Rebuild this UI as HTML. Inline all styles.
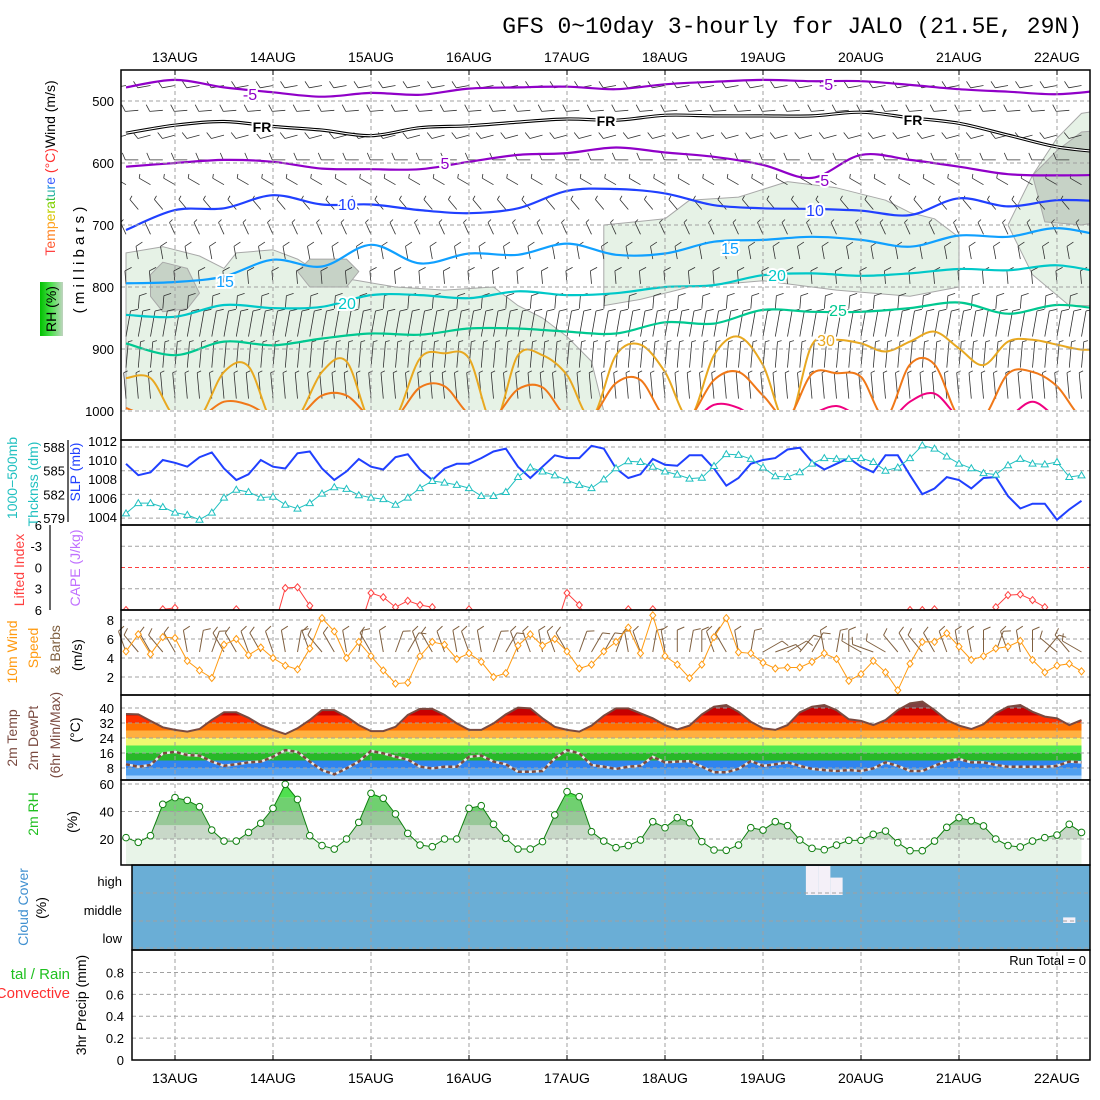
<!DOCTYPE html>
<html><head><meta charset="utf-8"><title>GFS meteogram JALO</title>
<style>
html,body{margin:0;padding:0;background:#fff;}
svg{display:block;font-family:"Liberation Sans",sans-serif;}
</style></head>
<body>
<svg id="chart" width="1100" height="1100" viewBox="0 0 1100 1100" xmlns="http://www.w3.org/2000/svg">
<defs>
<clipPath id="clipMain"><rect x="121" y="70" width="969" height="340"/></clipPath>
<clipPath id="clipLI"><rect x="121" y="525" width="969" height="85"/></clipPath>
<clipPath id="clipCloud"><rect x="132" y="865" width="958" height="85"/></clipPath>
<linearGradient id="rhGrad" x1="0" y1="0" x2="1" y2="0"><stop offset="0" stop-color="#00c000"/><stop offset="0.5" stop-color="#50e050"/><stop offset="1" stop-color="#c0d4c0"/></linearGradient>
</defs>
<text x="1082" y="33" text-anchor="end" font-family="Liberation Mono, monospace" font-size="23">GFS 0~10day 3-hourly for JALO (21.5E, 29N)</text>
</svg>
<script>
// ---------- data (3-hourly, starting 12AUG 12Z) ----------
const days = ["13AUG","14AUG","15AUG","16AUG","17AUG","18AUG","19AUG","20AUG","21AUG","22AUG"];
const slp = [1009.6,1008.4,1008.7,1010.0,1009.7,1009.3,1010.3,1010.8,1009.1,1007.9,1008.5,1010.0,1009.3,1009.1,1010.7,1010.9,1009.1,1007.9,1008.8,1010.1,1009.3,1009.0,1010.3,1010.6,1009.0,1007.9,1009.1,1009.6,1009.6,1010.2,1010.9,1011.2,1009.3,1008.1,1009.3,1010.5,1010.2,1010.2,1011.5,1011.2,1009.1,1008.1,1008.5,1010.1,1009.5,1009.4,1010.5,1010.5,1009.1,1007.3,1008.1,1009.6,1010.0,1010.2,1011.1,1011.3,1009.8,1009.0,1009.6,1010.2,1009.3,1008.7,1010.5,1010.5,1008.4,1006.4,1007.0,1008.2,1007.9,1007.0,1008.1,1008.2,1006.2,1004.9,1005.4,1005.4,1003.7,1004.8,1005.7];
const thickness = [579.6,580.9,580.9,580.4,579.7,579.4,578.8,579.7,581.6,582.6,582.3,581.6,581.7,580.7,580.2,580.9,582.1,582.9,582.7,581.9,581.6,581.4,580.7,581.6,582.8,583.7,583.5,583.2,582.8,581.8,581.8,582.3,584.2,585.4,584.9,584.4,583.8,583.2,582.8,583.9,585.3,586.2,586.1,585.5,584.9,584.5,584.0,584.1,585.6,587.1,587.0,586.5,585.4,584.3,584.2,584.8,585.9,586.6,586.5,586.5,586.6,586.1,585.0,585.4,586.6,588.2,587.8,586.8,585.9,585.3,584.7,584.5,585.7,586.5,585.9,585.8,586.1,584.2,584.4];
const liftedIndex = [6.0,9,9,5.9,5.7,9,9,9,9,5.9,9,9,9,2.9,2.8,5.4,9,9,9,9,3.6,4.2,5.6,4.7,5.3,5.6,9,9,5.9,9,9,9,9,9,9,9,3.6,5.3,9,9,9,5.9,9,5.9,9,9,9,9,9,9,9,9,9,9,9,9,9,9,9,9,9,9,9,9,6.0,6.0,5.9,9,9,9,9,5.6,3.9,3.8,4.6,5.6,9,9,9];
const wind10 = [4.7,6.5,4.4,6.2,6.1,3.7,2.7,1.9,5.4,6.0,4.3,5.1,4.0,3.2,2.8,5.0,8.2,6.8,4.0,5.7,4.2,2.7,1.3,1.4,4.2,5.7,5.4,3.9,4.5,3.6,2.0,2.4,5.3,6.5,5.3,6.0,4.7,2.9,3.3,4.7,5.7,7.2,4.5,8.5,4.2,3.3,1.9,3.3,6.2,8.2,4.6,4.5,3.5,2.9,3.0,3.0,3.6,4.5,3.9,1.6,2.3,3.7,2.5,0.6,3.4,5.7,5.7,6.6,5.2,3.8,4.2,5.0,5.2,5.8,3.8,2.5,3.2,3.4,2.6];
const wind10Dir = [340,320,330,320,330,350,10,20,330,330,340,330,340,350,10,340,320,330,350,10,330,350,20,30,340,330,340,350,340,350,20,30,340,340,350,340,330,20,30,30,20,350,340,10,350,0,10,0,340,330,350,10,60,70,60,40,30,350,10,0,300,290,300,320,330,320,330,340,350,350,0,20,340,350,0,40,310,320,300];
const temp2m = [36.8,36.6,33.1,29.7,28.3,27.4,28.8,33.6,37.7,37.7,34.8,30.9,28.3,26.1,29.2,33.6,38.9,38.9,35.4,30.9,27.7,27.7,30.0,36.3,39.5,39.5,36.3,31.8,28.3,28.3,31.8,36.6,40.2,39.8,34.5,30.0,28.3,27.4,30.6,35.9,39.8,39.8,37.2,34.5,30.9,28.6,30.6,36.6,40.7,41.6,38.0,32.7,29.2,28.3,30.9,37.7,40.7,41.6,38.9,34.0,33.2,30.9,33.6,38.9,42.5,43.4,38.9,33.6,30.6,28.8,31.3,37.2,40.7,41.6,38.0,35.4,34.5,30.9,33.6];
const dew2m = [10.0,8.7,9.6,15.8,16.6,14.9,14.6,11.4,9.2,10.0,11.0,11.4,14.0,17.6,16.6,11.4,6.9,4.6,7.8,11.4,17.1,15.8,14.0,12.5,8.7,7.8,8.7,8.7,14.0,14.6,11.4,10.0,6.0,6.0,6.4,13.1,17.6,15.8,9.6,8.7,7.5,8.7,9.2,14.0,11.0,11.4,11.7,8.7,5.7,5.7,7.5,11.7,9.1,10.0,11.0,9.2,7.5,6.9,6.4,6.9,6.4,7.8,11.0,9.1,6.4,6.4,9.2,11.7,12.8,11.0,11.0,9.6,8.7,8.7,8.7,8.7,9.1,11.4,11.0];
const rh2m = [21.0,17.6,22.4,45.2,50.1,48.1,43.5,26.5,18.5,18.5,24.8,31.4,42.3,59.8,48.8,22.4,15.2,12.7,20.0,32.1,53.2,49.6,38.2,24.1,15.6,14.4,20.0,20.0,42.3,44.2,30.7,20.5,12.7,12.7,18.1,37.5,54.4,50.8,25.3,18.5,13.7,15.2,19.3,32.6,28.2,35.5,31.9,18.1,12.0,11.8,15.6,28.2,26.5,32.6,29.7,19.3,13.2,12.2,15.6,19.0,19.0,23.4,25.8,17.3,11.5,11.5,18.5,28.5,35.5,33.3,29.5,20.0,15.2,14.2,18.5,21.0,22.9,30.7,24.8];
const cloudHigh = [100,100,100,100,100,100,100,100,100,100,100,100,100,100,100,100,100,100,100,100,100,100,100,100,100,100,100,100,100,100,100,100,100,100,100,100,100,100,100,100,100,100,100,100,100,100,100,100,100,100,100,100,100,100,100,100,0,0,40,100,100,100,100,100,100,100,100,100,100,100,100,100,100,100,100,100,100,100,100];
const cloudMid = [100,100,100,100,100,100,100,100,100,100,100,100,100,100,100,100,100,100,100,100,100,100,100,100,100,100,100,100,100,100,100,100,100,100,100,100,100,100,100,100,100,100,100,100,100,100,100,100,100,100,100,100,100,100,100,100,100,100,100,100,100,100,100,100,100,100,100,100,100,100,100,100,100,100,100,100,100,80,100];
const precip = new Array(79).fill(0);
// isotherm pressures (mb), 12-hourly
const isoM5 = [478,466,478,486,493,487,490,480,478,477,481,473,469,466,468,468,474,481,485,489,482];
const isoFR = [552,539,533,541,547,556,543,540,534,529,531,523,524,524,524,518,527,536,555,574,583];
const iso5 = [606,600,595,598,609,610,610,598,587,584,575,583,590,603,624,587,595,606,618,620,619];
const iso10 = [708,676,673,652,667,667,676,681,673,645,642,649,668,673,674,677,684,657,670,660,662];
const iso15 = [794,792,783,756,767,732,762,746,748,730,748,746,727,724,719,724,735,717,719,705,719];
const iso20 = [845,848,829,834,832,813,813,818,807,813,810,800,797,781,778,782,778,771,773,765,778];
const iso25 = [891,910,888,894,883,875,877,867,867,872,875,857,859,837,840,840,834,825,843,829,837];
// near-surface isotherms, 6-hourly (values > 1000 lie below ground)
const iso30 = [947,947,1010,1010,937,928,1020,1010,937,920,1020,1010,915,907,915,1020,910,910,942,1010,910,893,937,1010,910,880,926,1020,893,885,891,904,888,872,899,926,888,885,893,901,900];
const iso35 = [995,1010,1010,1010,985,990,1010,1010,975,975,1010,1010,962,960,1005,1010,965,962,1010,1010,955,950,1010,1010,950,937,975,1010,940,939,945,1010,925,925,1010,1010,940,937,960,1010,1010];
const iso40 = [1020,1020,1020,1020,1020,1020,1020,1020,1020,1020,1020,1020,1020,1020,1020,1020,1020,1020,1020,1020,1020,1020,1020,1020,990,995,1020,1020,1005,992,1010,1020,985,972,1010,1020,1010,985,1010,1020,1020];
// upper-air wind barbs by level
const barbLevels = [475,515,555,595,635,675,715,755,795,835,880,930,980];
const barbDir = [260,265,255,270,300,320,335,350,355,5,10,5,355];
const barbSpd = [12,11,10,9,8,8,8,9,9,9,10,8,6];
// RH shading regions (time index, pressure)
const rhShadeA = [[0,745],[3,735],[6,750],[8,770],[9,745],[12,740],[14,755],[16,780],[19,790],[22,800],[26,805],[30,800],[32,830],[34,850],[36,880],[38,920],[39,1000],[0,1000]];
const rhShadeB = [[39,700],[44,690],[46,660],[50,655],[54,630],[58,640],[62,660],[64,680],[66,690],[68,720],[68,800],[64,815],[58,805],[52,790],[46,800],[42,820],[39,830]];
const rhShadeC = [[76,560],[78,520],[81,510],[81,830],[77,830],[74,780],[72,700],[74,620]];
const rhDarkC = [[74,620],[76,580],[78,550],[81,545],[81,690],[78,700],[75,695]];
const rhDarkD = [[2,780],[3,760],[5,770],[6,810],[5,835],[3,840],[2,815]];
const rhDarkE = [[14,775],[15,755],[18,755],[19,775],[18,800],[15,800]];

// ---------- axes ----------
const NS = "http://www.w3.org/2000/svg";
const svg = document.getElementById("chart");
const X0 = 126, DX = 12.25;
const xOf = i => X0 + DX * i;
const yP = p => 70 + (p - 450) * 0.62;
const ySlp = v => 441 + (1012 - v) * 9.5;
const yThk = v => 447 + (588 - v) * 7.9;
const yLI = v => 525 + (v + 6) * 7.083;
const yW = v => 696 - v * 9.5;
const yT = v => 708 + (40 - v) * 1.875;
const yRH = v => 784 + (60 - v) * 1.375;
const yPr = v => 1060 - v * 109.4;
const dayX = d => xOf(4 + 8 * d);

function mk(tag, attrs, parent) {
  const e = document.createElementNS(NS, tag);
  for (const k in attrs) e.setAttribute(k, attrs[k]);
  (parent || svg).appendChild(e);
  return e;
}
function grp(clip) { const g = mk("g", clip ? {"clip-path": "url(#" + clip + ")"} : {}); return g; }
function smooth(pts) {
  let d = "M" + pts[0][0].toFixed(1) + "," + pts[0][1].toFixed(1);
  for (let i = 0; i < pts.length - 1; i++) {
    const p0 = pts[i - 1] || pts[i], p1 = pts[i], p2 = pts[i + 1], p3 = pts[i + 2] || p2;
    const c1x = p1[0] + (p2[0] - p0[0]) / 6, c1y = p1[1] + (p2[1] - p0[1]) / 6;
    const c2x = p2[0] - (p3[0] - p1[0]) / 6, c2y = p2[1] - (p3[1] - p1[1]) / 6;
    d += " C" + c1x.toFixed(1) + "," + c1y.toFixed(1) + " " + c2x.toFixed(1) + "," + c2y.toFixed(1) + " " + p2[0].toFixed(1) + "," + p2[1].toFixed(1);
  }
  return d;
}
function poly(pts) { return pts.map(p => p[0].toFixed(1) + "," + p[1].toFixed(1)).join(" "); }
function txt(x, y, s, attrs) {
  const t = mk("text", Object.assign({x: x, y: y, "font-size": 13}, attrs || {}));
  t.textContent = s;
  return t;
}

// ---------- main panel: RH shading ----------
const gMain = grp("clipMain");
[[rhShadeA, "#e6f2e6"], [rhShadeB, "#e6f2e6"], [rhShadeC, "#e6f2e6"], [rhDarkC, "#c6d2c6"], [rhDarkD, "#c6d2c6"], [rhDarkE, "#c6d2c6"]].forEach(([shape, col]) => {
  const e = mk("polygon", {points: poly(shape.map(q => [xOf(q[0]), yP(q[1])])), fill: col, stroke: "#a8a8a8", "stroke-width": 1, "stroke-linejoin": "round"}, gMain);
  
  
});

// ---------- fills for temp / rh / cloud before grid ----------
const tBands = [[0,4,"#a8d4ff"],[4,8,"#50a0f0"],[8,12,"#3084f0"],[12,16,"#28b828"],[16,20,"#50e850"],[20,24,"#f0f870"],[24,28,"#ffb040"],[28,32,"#ff7000"],[32,36,"#ff3000"],[36,40,"#c80000"],[40,50,"#804040"]];
const tArea = temp2m.map((v, i) => [xOf(i), yT(v)]);
const tClip = mk("clipPath", {id: "tClip"});
mk("polygon", {points: poly([[xOf(0), 780]].concat(tArea).concat([[xOf(78), 780]]))}, tClip);
const gT = grp("tClip");
tBands.forEach(b => {
  const e = mk("rect", {x: 121, y: Math.max(695, yT(b[1])), width: 969, height: yT(b[0]) - Math.max(695, yT(b[1])), fill: b[2]}, gT);
  
  
});
const rBands = [[0,20,"#e8f4e8"],[20,30,"#c8d8c8"],[30,40,"#98c898"],[40,50,"#70d070"],[50,70,"#50e050"]];
const rClip = mk("clipPath", {id: "rClip"});
mk("polygon", {points: poly([[xOf(0), 865]].concat(rh2m.map((v, i) => [xOf(i), yRH(v)])).concat([[xOf(78), 865]]))}, rClip);
const gR = grp("rClip");
rBands.forEach(b => {
  const e = mk("rect", {x: 121, y: Math.max(780, yRH(b[1])), width: 969, height: yRH(b[0]) - Math.max(780, yRH(b[1])), fill: b[2]}, gR);
  
  
});
const gC = grp("clipCloud");
const cloudBg = mk("rect", {x: 132, y: 865, width: 958, height: 85, fill: "#6aaed6"}, gC);


[[cloudHigh, 866, 895], [cloudMid, 895, 923]].forEach(([arr, top, bot]) => {
  arr.forEach((c, i) => {
    if (c >= 100) return;
    const h = (100 - c) / 100 * (bot - top);
    const e = mk("rect", {x: xOf(i) - DX / 2, y: bot - h, width: DX, height: h, fill: "#f4f0f8"}, gC);
    
    
  });
});

// ---------- grid ----------
const gGrid = grp();
const dash = {stroke: "#a0a0a0", "stroke-width": 1, "stroke-dasharray": "4,3"};
days.forEach((d, k) => {
  const x = dayX(k);
  const e = mk("line", Object.assign({x1: x, x2: x, y1: 70, y2: 1060}, dash), gGrid);
  
  
});
function hgrid(y, x1) {
  const e = mk("line", Object.assign({x1: x1 || 121, x2: 1090, y1: y, y2: y}, dash), gGrid);
  
  
}
[500,600,700,800,900,1000].forEach(p => hgrid(yP(p)));
[588,585,582,579].forEach(v => hgrid(yThk(v)));
[-3,3].forEach(v => hgrid(yLI(v)));
[8,6,4,2].forEach(v => hgrid(yW(v)));
[40,32,24,16,8].forEach(v => hgrid(yT(v)));
[60,40,20].forEach(v => hgrid(yRH(v)));
[893,921,948].forEach(y => hgrid(y, 132));
[0.8,0.6,0.4,0.2].forEach(v => hgrid(yPr(v), 132));
const li0 = mk("line", {x1: 121, x2: 1090, y1: yLI(0), y2: yLI(0), stroke: "#ff4040", "stroke-width": 1, "stroke-dasharray": "4,3"});



// ---------- barbs ----------
function barb(g, x, y, dir, spd, len, col, name, w) {
  const a = dir * Math.PI / 180;
  const ux = Math.sin(a), uy = -Math.cos(a);
  const ex = x + ux * len, ey = y + uy * len;
  let d = "M" + x.toFixed(1) + "," + y.toFixed(1) + " L" + ex.toFixed(1) + "," + ey.toFixed(1);
  const px = -uy, py = ux;
  let rem = spd, pos = 0;
  while (rem >= 4.5 && pos < 3) {
    const bx = ex - ux * pos * 3, by = ey - uy * pos * 3;
    d += " M" + bx.toFixed(1) + "," + by.toFixed(1) + " L" + (bx + px * 7 + ux * 3).toFixed(1) + "," + (by + py * 7 + uy * 3).toFixed(1);
    rem -= 5; pos++;
  }
  if (rem >= 2) {
    const bx = ex - ux * pos * 3, by = ey - uy * pos * 3;
    d += " M" + bx.toFixed(1) + "," + by.toFixed(1) + " L" + (bx + px * 4 + ux * 1.5).toFixed(1) + "," + (by + py * 4 + uy * 1.5).toFixed(1);
  }
  const e = mk("path", {d: d, fill: "none", stroke: col, "stroke-width": w || 1}, g);
  
  
}
barbLevels.forEach((p, li) => {
  const dense = p >= 870;
  const step = dense ? 1 : 2;
  const start = dense ? 0 : (li % 2);
  for (let i = start; i < 79; i += step) {
    barb(gMain, xOf(i), yP(p), barbDir[li], barbSpd[li] / 2, dense ? 26 : 13, "#303030", "upper-wind-barb", 0.8);
  }
});

// ---------- main panel contours ----------
const iso12 = [[isoM5, "#9000c8"], [iso5, "#9000c8"], [iso10, "#2040ff"], [iso15, "#10a0ff"], [iso20, "#00c8c8"], [iso25, "#00c890"]];
iso12.forEach(([arr, col]) => {
  const e = mk("path", {d: smooth(arr.map((p, k) => [xOf(4 * k), yP(p)])), fill: "none", stroke: col, "stroke-width": 2.2}, gMain);
  
  
});
const frPath = smooth(isoFR.map((p, k) => [xOf(4 * k), yP(p)]));
const fr1 = mk("path", {d: frPath, fill: "none", stroke: "#000", "stroke-width": 3.2}, gMain);


const fr2 = mk("path", {d: frPath, fill: "none", stroke: "#fff", "stroke-width": 1.1}, gMain);


[[iso30, "#e8a820"], [iso35, "#f07818"], [iso40, "#f00080"]].forEach(([arr, col]) => {
  const e = mk("path", {d: smooth(arr.map((p, k) => [xOf(2 * k), yP(p)])), fill: "none", stroke: col, "stroke-width": 2}, gMain);
  
  
});

// ---------- contour labels ----------
const labels = [["-5",250,100,"#9000c8"],["FR",262,132,"#000"],["5",445,169,"#9000c8"],["10",347,210,"#2040ff"],["15",225,287,"#10a0ff"],["20",347,309,"#00c8c8"],["-5",826,90,"#9000c8"],["FR",606,126,"#000"],["FR",913,125,"#000"],["-5",822,186,"#9000c8"],["10",815,216,"#2040ff"],["15",730,254,"#10a0ff"],["20",777,281,"#00c8c8"],["25",838,316,"#00c890"],["30",826,346,"#e8a820"]];
labels.forEach(l => {
  const t = txt(l[1], l[2], l[0], {"font-size": l[0] === "FR" ? 14 : 16, fill: l[3], "text-anchor": "middle", stroke: "#fff", "stroke-width": 4, "paint-order": "stroke", "font-weight": l[0] === "FR" ? "bold" : "normal"});
  
  
});

// ---------- SLP / thickness ----------
const slpLine = mk("polyline", {points: poly(slp.map((v, i) => [xOf(i), ySlp(v)])), fill: "none", stroke: "#2040ff", "stroke-width": 2});


const thkLine = mk("polyline", {points: poly(thickness.map((v, i) => [xOf(i), yThk(v)])), fill: "none", stroke: "#20c0c0", "stroke-width": 1});


thickness.forEach((v, i) => {
  const x = xOf(i), y = yThk(v);
  const e = mk("polygon", {points: poly([[x, y - 3.5], [x - 3.5, y + 2.5], [x + 3.5, y + 2.5]]), fill: "#fff", stroke: "#20c0c0", "stroke-width": 1});
  
  
});

// ---------- lifted index ----------
const gLI = grp("clipLI");
const liLine = mk("polyline", {points: poly(liftedIndex.map((v, i) => [xOf(i), yLI(v)])), fill: "none", stroke: "#ff4040", "stroke-width": 1}, gLI);


liftedIndex.forEach((v, i) => {
  if (v > 6) return;
  const x = xOf(i), y = yLI(v);
  const e = mk("polygon", {points: poly([[x, y - 3.5], [x + 3, y], [x, y + 3.5], [x - 3, y]]), fill: "#fff", stroke: "#ff4040", "stroke-width": 1}, gLI);
  
  
});

// ---------- 10m wind ----------
wind10Dir.forEach((d, i) => barb(svg, xOf(i), 652, d, 5, 22, "#806040", "surface-wind-barb", 1));
const wLine = mk("polyline", {points: poly(wind10.map((v, i) => [xOf(i), yW(v)])), fill: "none", stroke: "#ff9a10", "stroke-width": 1});


wind10.forEach((v, i) => {
  const x = xOf(i), y = yW(v);
  const e = mk("polygon", {points: poly([[x, y - 3.5], [x + 3, y], [x, y + 3.5], [x - 3, y]]), fill: "#fff", stroke: "#ff9a10", "stroke-width": 1});
  
  
});

// ---------- temperature / dewpoint lines ----------
const tLine = mk("polyline", {points: poly(tArea), fill: "none", stroke: "#7a4a40", "stroke-width": 2});


const dPts = poly(dew2m.map((v, i) => [xOf(i), yT(v)]));
const dLine1 = mk("polyline", {points: dPts, fill: "none", stroke: "#e8e8e8", "stroke-width": 2.5});


const dLine2 = mk("polyline", {points: dPts, fill: "none", stroke: "#7a4a40", "stroke-width": 2.5, "stroke-dasharray": "4,3"});



// ---------- RH line ----------
const rLine = mk("polyline", {points: poly(rh2m.map((v, i) => [xOf(i), yRH(v)])), fill: "none", stroke: "#108010", "stroke-width": 1});


rh2m.forEach((v, i) => {
  const e = mk("circle", {cx: xOf(i), cy: yRH(v), r: 3.3, fill: "#fff", stroke: "#108010", "stroke-width": 1});
  
  
});

// ---------- precip (all zero) ----------
precip.forEach((v, i) => {
  if (v <= 0) return;
  const e = mk("rect", {x: xOf(i) - 4, y: yPr(v), width: 8, height: 1060 - yPr(v), fill: "#20c020"});
  
  
});

// ---------- frames ----------
const frames = [[121,70,969,370],[121,440,969,85],[121,525,969,85],[121,610,969,85],[121,695,969,85],[121,780,969,85],[132,865,958,85],[132,950,958,110]];
frames.forEach(f => {
  const e = mk("rect", {x: f[0], y: f[1], width: f[2], height: f[3], fill: "none", stroke: "#000", "stroke-width": 1.5});
  
  
});
const thkAxis = mk("line", {x1: 68, x2: 68, y1: 440, y2: 522, stroke: "#000", "stroke-width": 1.2});


const liAxis = mk("line", {x1: 50, x2: 50, y1: 525, y2: 610, stroke: "#000", "stroke-width": 1.2});



// ---------- date labels / ticks ----------
days.forEach((d, k) => {
  const x = dayX(k);
  const t1 = txt(x, 62, d, {"font-size": 14, "text-anchor": "middle"});
  
  
  const t2 = txt(x, 1083, d, {"font-size": 14, "text-anchor": "middle"});
  
  
  const k1 = mk("line", {x1: x, x2: x, y1: 70, y2: 75, stroke: "#000"});
  
  
  const k2 = mk("line", {x1: x, x2: x, y1: 1055, y2: 1060, stroke: "#000"});
  
  
});
function tick(x, y, s, name, col) {
  const t = txt(x, y + 5, s, {"text-anchor": "end", fill: col || "#000"});
  
  
}
[500,600,700,800,900,1000].forEach(p => tick(114, yP(p), String(p), "pressure-tick-label"));
[1012,1010,1008,1006,1004].forEach(v => tick(117, ySlp(v), String(v), "slp-tick-label"));
[588,585,582,579].forEach(v => tick(65, yThk(v), String(v), "thickness-tick-label"));
[["6",-6],["-3",-3],["0",0],["3",3],["6",6]].forEach(a => tick(42, yLI(a[1]), a[0], "lifted-index-tick-label"));
[8,6,4,2].forEach(v => tick(114, yW(v), String(v), "wind-tick-label"));
[40,32,24,16,8].forEach(v => tick(114, yT(v), String(v), "temp-tick-label"));
[60,40,20].forEach(v => tick(114, yRH(v), String(v), "rh-tick-label"));
[["high",881],["middle",910],["low",938]].forEach(a => tick(122, a[1], a[0], "cloud-layer-label"));
[0.8,0.6,0.4,0.2,0].forEach(v => tick(124, yPr(v), v === 0 ? "0" : v.toFixed(1), "precip-tick-label"));
const runTot = txt(1086, 965, "Run Total = 0", {"text-anchor": "end"});



// ---------- rotated axis titles ----------
function vlab(x, y, parts, name, extra) {
  const t = mk("text", Object.assign({x: x, y: y, "font-size": 14, "text-anchor": "middle", transform: "rotate(-90 " + x + " " + y + ")"}, extra || {}));
  parts.forEach(p => { const s = mk("tspan", {fill: p[1]}, t); s.textContent = p[0]; });
  
  
}
vlab(55, 168, [["T","#ff4040"],["e","#ff5a30"],["m","#ff8020"],["p","#ffa020"],["e","#e0c000"],["r","#c0d000"],["a","#80d000"],["t","#40c040"],["u","#20b0a0"],["r","#2090e0"],["e","#4060ff"],[" (°C)","#ff3030"],["Wind (m/s)","#000"]], "main-axis-title");
vlab(84, 260, [["( m i l l i b a r s )","#000"]], "pressure-axis-title", {"font-size": 15});
const rhBox = mk("rect", {x: 40, y: 282, width: 23, height: 54, fill: "url(#rhGrad)"});


vlab(56, 309, [["RH (%)","#000"]], "rh-legend-title");
vlab(17, 478, [["1000−500mb","#20c0c0"]], "thickness-axis-title-1");
vlab(38, 484, [["Thcknss (dm)","#20c0c0"]], "thickness-axis-title-2");
vlab(80, 472, [["SLP (mb)","#2040ff"]], "slp-axis-title");
vlab(24, 570, [["Lifted Index","#ff4040"]], "lifted-index-axis-title");
vlab(80, 568, [["CAPE (J/kg)","#c070ff"]], "cape-axis-title");
vlab(17, 652, [["10m Wind","#ff9a10"]], "wind-axis-title-1");
vlab(38, 648, [["Speed","#ff9a10"]], "wind-axis-title-2");
vlab(60, 650, [["& Barbs","#806040"]], "wind-axis-title-3");
vlab(82, 655, [["(m/s)","#000"]], "wind-axis-title-4");
vlab(17, 738, [["2m Temp","#7a4a40"]], "temp-axis-title-1");
vlab(38, 738, [["2m DewPt","#7a4a40"]], "temp-axis-title-2");
vlab(60, 735, [["(6hr Min/Max)","#7a4a40"]], "temp-axis-title-3");
vlab(80, 730, [["(°C)","#000"]], "temp-axis-title-4");
vlab(38, 814, [["2m RH","#20c020"]], "rh-axis-title");
vlab(77, 822, [["(%)","#000"]], "rh-unit-title");
vlab(28, 907, [["Cloud Cover","#4090d0"]], "cloud-axis-title");
vlab(46, 908, [["(%)","#000"]], "cloud-unit-title");
vlab(86, 1005, [["3hr Precip (mm)","#000"]], "precip-axis-title");
const pl1 = txt(70, 979, "tal / Rain", {"font-size": 15, fill: "#20c020", "text-anchor": "end"});


const pl2 = txt(70, 998, "Convective", {"font-size": 15, fill: "#ff3030", "text-anchor": "end"});


</script>
</body></html>
